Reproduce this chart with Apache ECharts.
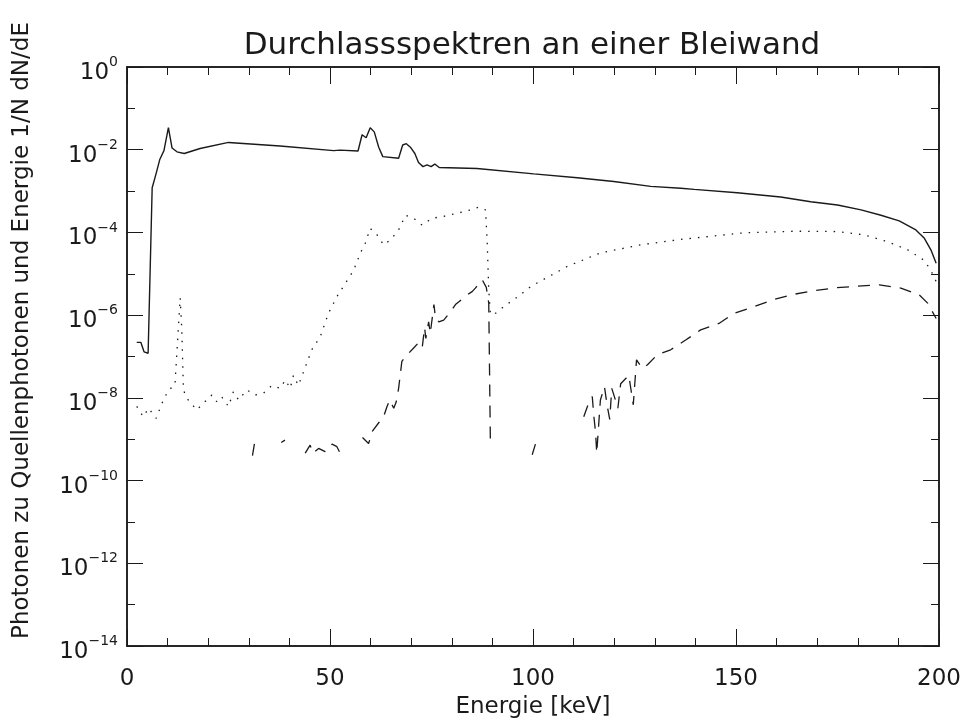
<!DOCTYPE html>
<html>
<head>
<meta charset="utf-8">
<script src="https://cdn.jsdelivr.net/npm/echarts@6/dist/echarts.min.js"></script>
<style>
  html, body { margin: 0; padding: 0; background: #fff; }
  #chart { width: 966px; height: 720px; }
</style>
</head>
<body>
<div id="chart"></div>
<script>
// Durchgelassene Spektren
const solidEnergy = [2.4, 3.4, 4.2, 5.2, 6.2, 7.1, 8.1, 9.1, 10.2, 11.1, 12.3, 14.1, 18.0, 25.0, 37.7, 50.9, 52.5, 56.9, 57.9, 58.9, 59.9, 60.9, 62.0, 63.0, 66.9, 67.9, 68.8, 69.8, 70.9, 71.8, 72.9, 73.9, 74.9, 75.8, 76.9, 86.2, 100.2, 110.9, 119.9, 129.0, 136.4, 139.7, 150.3, 161.0, 168.4, 175.0, 180.8, 185.7, 190.2, 194.3, 196.4, 198.0, 199.3]
const solidValues = [2.2e-7, 2.2e-7, 1.3e-7, 1.2e-7, 1.2e-3, 2.5e-3, 5.9e-3, 9.5e-3, 3.4e-2, 1.1e-2, 8.9e-3, 8.1e-3, 1.07e-2, 1.5e-2, 1.23e-2, 9.5e-3, 9.8e-3, 9.3e-3, 2.3e-2, 1.95e-2, 3.4e-2, 2.7e-2, 1.15e-2, 6.8e-3, 6.2e-3, 1.3e-2, 1.4e-2, 1.15e-2, 8.1e-3, 4.9e-3, 3.9e-3, 4.3e-3, 3.9e-3, 4.5e-3, 3.7e-3, 3.5e-3, 2.6e-3, 2.1e-3, 1.7e-3, 1.3e-3, 1.17e-3, 1.1e-3, 9.1e-4, 7.2e-4, 5.5e-4, 4.6e-4, 3.5e-4, 2.6e-4, 1.9e-4, 1.15e-4, 7.2e-5, 3.8e-5, 1.8e-5]

const dottedEnergy = [2.4, 4.0, 5.3, 7.2, 8.6, 10.2, 11.8, 13.1, 13.5, 13.9, 14.7, 17.2, 18.8, 20.9, 22.1, 23.3, 25.0, 26.2, 27.5, 29.5, 31.6, 33.6, 35.7, 37.7, 39.0, 40.2, 41.0, 42.2, 43.5, 45.5, 47.6, 49.6, 51.7, 53.8, 55.8, 57.5, 58.7, 59.9, 61.6, 63.2, 64.9, 66.9, 68.6, 70.6, 72.7, 75.1, 77.6, 81.3, 84.6, 86.6, 88.3, 88.7, 89.1, 89.5, 90.2, 92.8, 96.5, 99.4, 108.4, 116.6, 126.5, 136.4, 141.3, 152.0, 164.3, 175.0, 181.6, 187.3, 192.3, 196.4, 198.0, 199.3]
const dottedValues = [6.2e-9, 3.5e-9, 5.6e-9, 3.2e-9, 7.4e-9, 1.55e-8, 2.0e-8, 2.6e-6, 4.4e-7, 1.55e-8, 9.8e-9, 5.1e-9, 7.4e-9, 1.17e-8, 8.1e-9, 1.07e-8, 6.2e-9, 1.4e-8, 8.9e-9, 1.55e-8, 1.17e-8, 1.3e-8, 2.0e-8, 1.7e-8, 2.7e-8, 1.7e-8, 3.5e-8, 2.0e-8, 4.3e-8, 1.45e-7, 3.0e-7, 1.1e-6, 2.8e-6, 5.9e-6, 1.2e-5, 3.2e-5, 5.5e-5, 1.26e-4, 8.7e-5, 5.0e-5, 6.6e-5, 1.15e-4, 2.6e-4, 2.2e-4, 1.5e-4, 2.2e-4, 2.4e-4, 2.9e-4, 3.5e-4, 4.1e-4, 3.5e-4, 6.6e-5, 4.1e-6, 1.1e-6, 1.0e-6, 1.6e-6, 2.9e-6, 4.9e-6, 1.5e-5, 3.2e-5, 5.0e-5, 6.8e-5, 7.6e-5, 9.8e-5, 1.07e-4, 1.05e-4, 8.7e-5, 6.0e-5, 3.8e-5, 2.1e-5, 1.2e-5, 6.5e-6]

// null = Lücke (kein Wert im Bild)
const dashedEnergy = [30.9, 31.4, 35.0, 38.0, 38.9, 41.0, 43.9, 45.1, 45.8, 47.2, 48.8, 50.5, 51.7, 52.5, 55.0, 58.0, 59.5, 60.5, 62.0, 63.2, 64.0, 64.7, 65.7, 66.3, 66.9, 67.7, 69.0, 70.6, 71.7, 72.7, 73.3, 73.6, 74.3, 74.7, 75.6, 76.0, 76.8, 78.0, 79.7, 80.9, 83.8, 85.0, 85.8, 87.5, 88.5, 89.1, 89.5, 95.0, 99.8, 100.6, 106.0, 112.5, 113.4, 114.6, 115.0, 115.4, 115.7, 116.2, 116.6, 117.6, 118.3, 118.9, 119.4, 120.3, 120.9, 121.6, 123.6, 124.7, 125.5, 126.9, 128.2, 130.6, 133.9, 137.6, 141.3, 145.8, 149.5, 154.4, 159.4, 164.3, 169.2, 174.6, 179.9, 185.3, 190.6, 195.1, 197.2, 199.3]
const dashedValues = [4.0e-10, 7.9e-10, null, 8.3e-10, 9.5e-10, null, 4.6e-10, 7.2e-10, 4.6e-10, 6.0e-10, 5.0e-10, 7.6e-10, 6.6e-10, 4.6e-10, null, 1.1e-9, 7.9e-10, 1.6e-9, 2.5e-9, 3.5e-9, 6.0e-9, 8.9e-9, 5.6e-9, 7.9e-9, 1.7e-8, 7.6e-8, 1.1e-7, 1.6e-7, 2.1e-7, 1.6e-7, 5.0e-7, 2.75e-7, 6.9e-7, 3.6e-7, 1.8e-6, 8.3e-7, 6.9e-7, 7.6e-7, 1.2e-6, 1.8e-6, 3.1e-6, 3.7e-6, 4.5e-6, 7.1e-6, 4.7e-6, 1.95e-6, 8.7e-10, null, 4.2e-10, 7.6e-10, null, 3.5e-9, 6.2e-9, 1.07e-8, 3.5e-9, 1.5e-9, 4.6e-10, 2.4e-9, 8.9e-9, 1.86e-8, 6.2e-9, 3.0e-9, 1.7e-8, 8.9e-9, 5.6e-9, 2.2e-8, 3.5e-8, 6.8e-9, 8.3e-8, 5.2e-8, 6.3e-8, 1.1e-7, 1.45e-7, 2.5e-7, 4.4e-7, 6.3e-7, 1.1e-6, 1.6e-6, 2.4e-6, 3.2e-6, 3.9e-6, 4.6e-6, 5.0e-6, 5.4e-6, 4.5e-6, 3.1e-6, 1.95e-6, 8.3e-7]

const xTickLabels = [0, 50, 100, 150, 200]
const yMinExp = -14
const yMaxExp = 0

const FONT = 'DejaVu Sans'
const INK = '#1a1a1a'

const zip = (xs, ys) => xs.map((x, i) => [x, ys[i] === null ? '-' : ys[i]])

const chart = echarts.init(document.getElementById('chart'), null, { renderer: 'canvas' })

// gemeinsame Achsenteile
const lineStyle = { color: INK, width: 1.5 }
const xBase = (position, interval, tickLen, labels) => ({
  type: 'value',
  position,
  min: xTickLabels[0],
  max: xTickLabels[xTickLabels.length - 1],
  interval,
  axisLine: { show: true, onZero: false, lineStyle },
  axisTick: { show: true, inside: true, length: tickLen, lineStyle: { color: INK, width: 1 } },
  axisLabel: labels
    ? { show: true, margin: 22, fontFamily: FONT, fontSize: 23, color: INK }
    : { show: false },
  splitLine: { show: false },
})
const yBase = (position, interval, tickLen, labels) => ({
  type: 'log',
  logBase: 10,
  position,
  min: Math.pow(10, yMinExp),
  max: Math.pow(10, yMaxExp),
  interval,
  axisLine: { show: true, onZero: false, lineStyle },
  axisTick: { show: true, inside: true, length: tickLen, lineStyle: { color: INK, width: 1 } },
  axisLabel: labels
    ? {
        show: true,
        margin: 9,
        formatter: (v) => {
          const e = Math.round(Math.log10(v))
          return '{b|10}{s|' + (e < 0 ? '\u2212' + -e : e) + '}'
        },
        rich: {
          b: { fontFamily: FONT, fontSize: 23, lineHeight: 23, padding: [12, 0, 0, 0], color: INK },
          s: { fontFamily: FONT, fontSize: 14, lineHeight: 14, verticalAlign: 'top', color: INK },
        },
      }
    : { show: false },
  splitLine: { show: false },
})

const xAxisMain = xBase('bottom', 50, 17, true)
xAxisMain.name = 'Energie [keV]'
xAxisMain.nameLocation = 'middle'
xAxisMain.nameGap = 49
xAxisMain.nameTextStyle = { fontFamily: FONT, fontSize: 23, color: INK }

const yAxisMain = yBase('left', 2, 16, true)
yAxisMain.name = 'Photonen zu Quellenphotonen und Energie 1/N dN/dE'
yAxisMain.nameLocation = 'middle'
yAxisMain.nameGap = 93
yAxisMain.nameTextStyle = { fontFamily: FONT, fontSize: 23, color: INK, padding: [0, 0, 0, 52] }

const option = {
  backgroundColor: '#fff',
  animation: false,
  title: {
    text: 'Durchlassspektren an einer Bleiwand',
    left: 532,
    textAlign: 'center',
    top: 30,
    textStyle: { fontFamily: FONT, fontSize: 31, fontWeight: 'normal', color: INK },
    padding: 0,
  },
  grid: { left: 127, right: 27, top: 67, bottom: 74, containLabel: false, outerBoundsMode: 'none' },
  xAxis: [
    xAxisMain,
    xBase('bottom', 10, 8, false),
    xBase('top', 50, 17, false),
    xBase('top', 10, 8, false),
  ],
  yAxis: [
    yAxisMain,
    yBase('left', 1, 8, false),
    yBase('right', 2, 16, false),
    yBase('right', 1, 8, false),
  ],
  series: [
    {
      name: 'solid',
      type: 'line',
      xAxisIndex: 0,
      yAxisIndex: 0,
      data: zip(solidEnergy, solidValues),
      showSymbol: false,
      lineStyle: { color: INK, width: 1.4 },
    },
    {
      name: 'dotted',
      type: 'line',
      xAxisIndex: 0,
      yAxisIndex: 0,
      data: zip(dottedEnergy, dottedValues),
      showSymbol: false,
      lineStyle: { color: INK, width: 1.3, type: [1.5, 7] },
    },
    {
      name: 'dashed',
      type: 'line',
      xAxisIndex: 0,
      yAxisIndex: 0,
      data: zip(dashedEnergy, dashedValues),
      showSymbol: false,
      connectNulls: false,
      lineStyle: { color: INK, width: 1.3, type: [12, 9] },
    },
  ],
}

chart.setOption(option)
</script>
</body>
</html>
